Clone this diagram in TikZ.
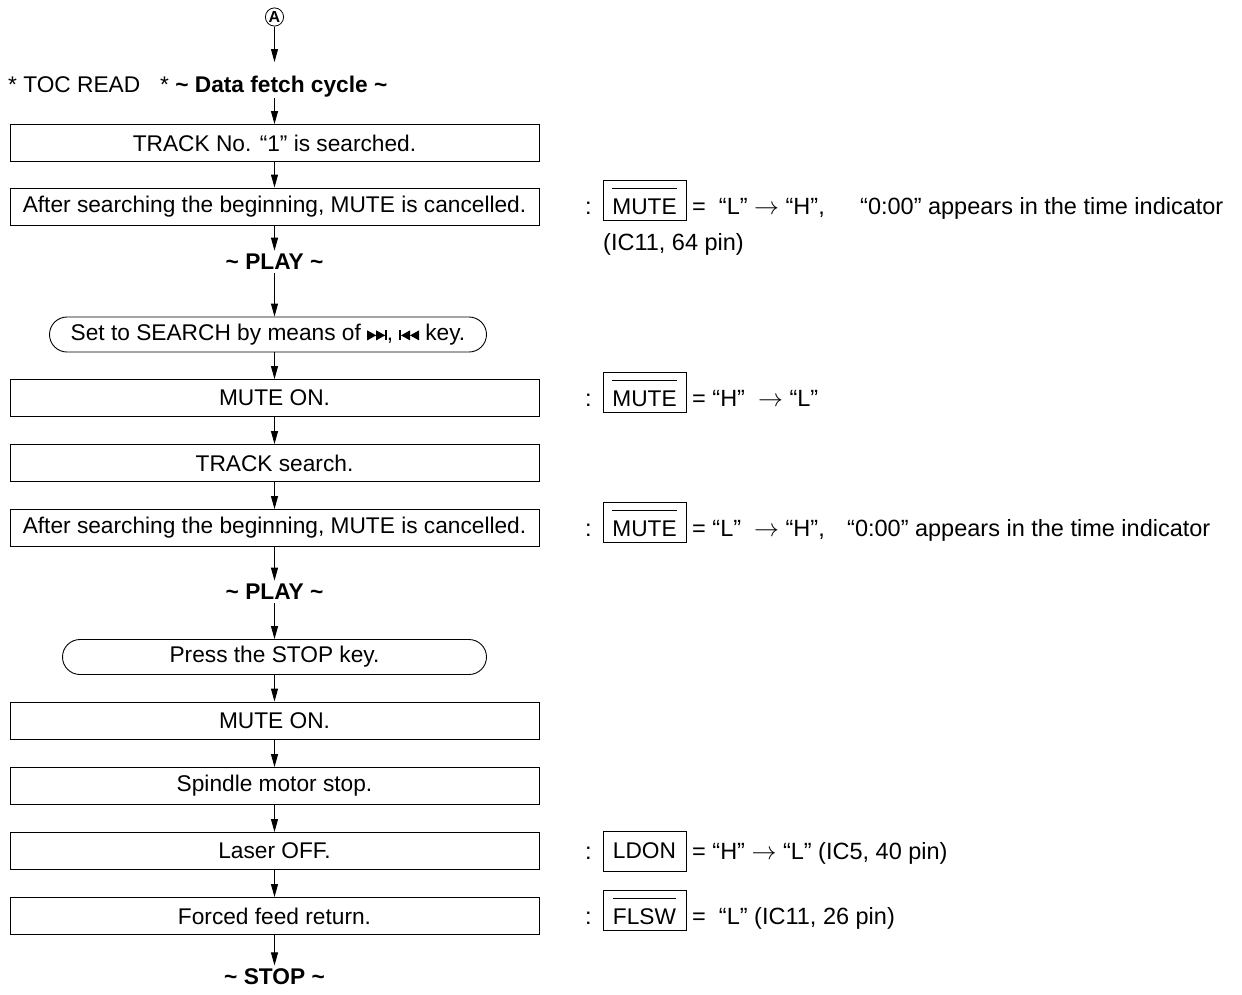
\documentclass[tikz,border=0pt]{standalone}
\usepackage{fontspec}
\setmainfont{Liberation Sans}
\usetikzlibrary{arrows.meta,shapes.misc}
\newcommand{\ffw}{\tikz[baseline=0pt,x=1pt,y=1pt]{\fill (0,0)--(9,5)--(0,10)--cycle; \fill (9,0)--(18,5)--(9,10)--cycle; \fill (18,0) rectangle (19.6,10);}}
\newcommand{\rew}{\tikz[baseline=0pt,x=1pt,y=1pt]{\fill (0,0) rectangle (1.6,10); \fill (10.6,0)--(1.6,5)--(10.6,10)--cycle; \fill (19.6,0)--(10.6,5)--(19.6,10)--cycle;}}
\newcommand{\ovl}[1]{\leavevmode\vbox{\hrule height 0.8pt\kern 10pt\hbox{#1}}}
\begin{document}
\begin{tikzpicture}[x=1pt,y=-1pt,
  every node/.style={font=\fontsize{22.7}{26}\selectfont},
  stepbox/.style={draw, line width=0.9pt, minimum width=529pt, minimum height=37pt, inner sep=0pt},
  rbox/.style={draw, rounded rectangle, line width=0.9pt, minimum height=35pt, inner sep=0pt},
  flow/.style={-{Triangle[length=13pt,width=7pt]}, line width=0.9pt},
  sigplain/.style={draw, line width=0.7pt, minimum width=83pt, minimum height=40pt, inner sep=0pt},
  sig/.style={sigplain, text height=30pt, text depth=1.4pt},
  hdr/.style={font=\fontsize{22.7}{26}\selectfont\bfseries},
  txt/.style={anchor=base west, inner sep=0pt, font=\fontsize{23.5}{27}\selectfont}]
\useasboundingbox (0,0) rectangle (1242,994);

% start
\node[draw, circle, line width=0.8pt, inner sep=0.8pt, font=\fontsize{16}{18}\selectfont\bfseries] (A) at (274.5,17) {A};
\node[anchor=base west, inner sep=0pt] (head) at (8,92) {* TOC READ\hspace{20pt}* \textbf{\textasciitilde\ Data fetch cycle \textasciitilde}};
\coordinate (hA) at (274.5,62);
\coordinate (hB) at (274.5,98);

\node[stepbox] (b1) at (274.5,143) {TRACK No. “1” is searched.};
\node[stepbox] (b2) at (274.5,206.5) {After searching the beginning, MUTE is cancelled.};
\node[hdr] (p1) at (274.5,262) {\textasciitilde\ PLAY \textasciitilde};
\node[rbox, minimum width=437pt] (r1) at (268,334.5) {Set to SEARCH by means of \ffw, \rew\ key.};
\node[stepbox] (b3) at (274.5,398) {MUTE ON.};
\node[stepbox] (b4) at (274.5,463) {TRACK search.};
\node[stepbox] (b5) at (274.5,528) {After searching the beginning, MUTE is cancelled.};
\node[hdr] (p2) at (274.5,592) {\textasciitilde\ PLAY \textasciitilde};
\node[rbox, minimum width=424pt] (r2) at (274.5,657) {Press the STOP key.};
\node[stepbox] (b6) at (274.5,720.5) {MUTE ON.};
\node[stepbox] (b7) at (274.5,786) {Spindle motor stop.};
\node[stepbox] (b8) at (274.5,851) {Laser OFF.};
\node[stepbox] (b9) at (274.5,916) {Forced feed return.};
\node[hdr] (st) at (274.5,977) {\textasciitilde\ STOP \textasciitilde};

\draw[flow] (A) -- (hA);
\draw[flow] (hB) -- (b1);
\draw[flow] (b1) -- (b2);
\draw[flow] (b2) -- (p1);
\draw[flow] (p1) -- (r1.north -| p1);
\draw[flow] (r1.south -| b3) -- (b3);
\draw[flow] (b3) -- (b4);
\draw[flow] (b4) -- (b5);
\draw[flow] (b5) -- (p2);
\draw[flow] (p2) -- (r2);
\draw[flow] (r2) -- (b6);
\draw[flow] (b6) -- (b7);
\draw[flow] (b7) -- (b8);
\draw[flow] (b8) -- (b9);
\draw[flow] (b9) -- (st);

% annotations
\node[txt] (c1) at (585,214.5) {:};
\node[sig] (s1) at (644.5,200.2) {\ovl{MUTE}};
\node[txt] (t1) at (692,214.5) {=\ \ “L” $\rightarrow$ “H”,};
\node[txt] (u1) at (860,214.5) {“0:00” appears in the time indicator};
\node[txt] (v1) at (603,250) {(IC11, 64 pin)};

\node[txt] (c2) at (585,406.5) {:};
\node[sig] (s2) at (644.5,392.2) {\ovl{MUTE}};
\node[txt] (t2) at (692,406.5) {= “H” \ $\rightarrow$ “L”};

\node[txt] (c3) at (585,536.5) {:};
\node[sig] (s3) at (644.5,522.2) {\ovl{MUTE}};
\node[txt] (t3) at (692,536.5) {= “L” \ $\rightarrow$ “H”,};
\node[txt] (u3) at (847,536.5) {“0:00” appears in the time indicator};

\node[txt] (c4) at (585,859.5) {:};
\node[sigplain] (s4) at (644.5,851) {LDON};
\node[txt] (t4) at (692,859.5) {= “H” $\rightarrow$ “L” (IC5, 40 pin)};

\node[txt] (c5) at (585,924.5) {:};
\node[sig] (s5) at (644.5,910.2) {\ovl{FLSW}};
\node[txt] (t5) at (692,924.5) {=\ \ “L” (IC11, 26 pin)};
\end{tikzpicture}
\end{document}
